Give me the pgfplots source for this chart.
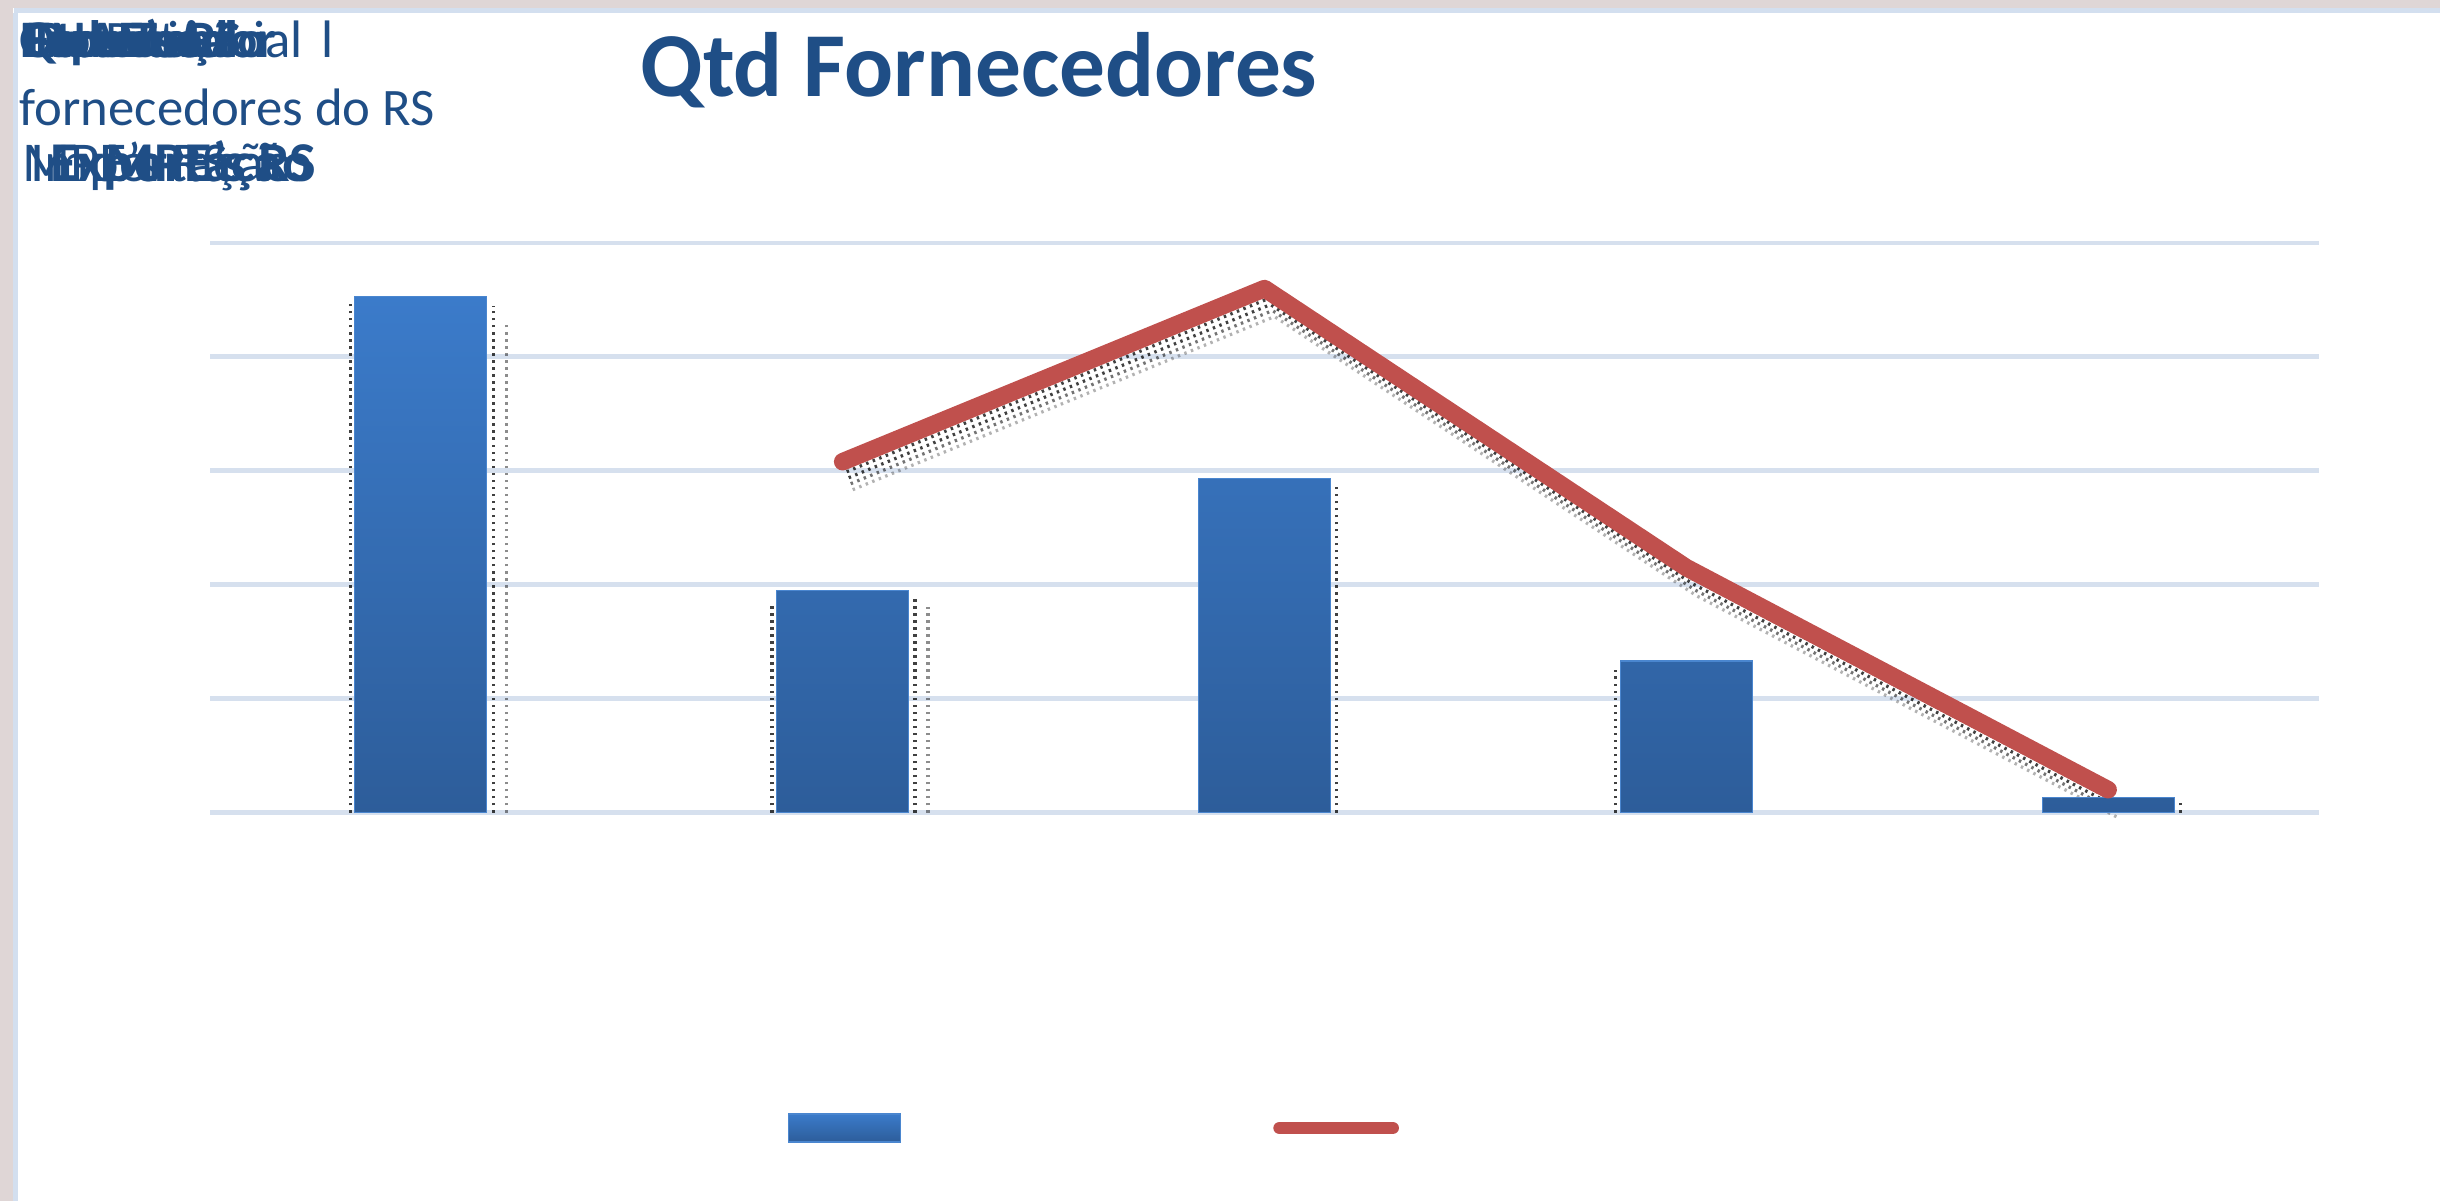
\documentclass[border=0pt]{standalone}
\usepackage{fontspec}
\setmainfont{Carlito}
\usepackage{pgfplots}
\pgfplotsset{compat=1.18}
\definecolor{pinkc}{HTML}{DFD6D6}
\definecolor{bluestrip}{HTML}{D3DFEF}
\definecolor{gridc}{HTML}{D6E0EE}
\definecolor{barTop}{HTML}{3B7BCA}
\definecolor{barBot}{HTML}{2D5D9A}
\definecolor{barEdge}{HTML}{4A86CF}
\definecolor{lineRed}{HTML}{C0504D}
\definecolor{titleBlue}{HTML}{1F4E86}
\begin{document}
\begin{tikzpicture}
% background
\useasboundingbox (0,0) rectangle (244mm,120.1mm);
\fill[white] (0,0) rectangle (244mm,120.1mm);
\fill[pinkc] (0,119.3mm) rectangle (244mm,120.1mm);
\fill[bluestrip] (1.4mm,118.8mm) rectangle (244mm,119.3mm);
\fill[pinkc] (0,0) rectangle (1.3mm,120.1mm);
\fill[bluestrip] (1.3mm,0) rectangle (1.8mm,118.8mm);

\begin{axis}[
  at={(21mm,38.85mm)}, anchor=south west,
  scale only axis, width=210.9mm, height=56.95mm,
  xmin=-0.5, xmax=4.5, ymin=0, ymax=5,
  axis line style={draw=none}, tick style={draw=none},
  xtick=\empty, ytick={0,1,2,3,4,5}, yticklabels={},
  ymajorgrids, grid style={gridc, line width=1.4pt},
  clip=false, unbounded coords=jump,
  legend columns=2,
  legend style={at={(axis description cs:0.2736,-0.554)}, anchor=west,
    draw=none, fill=none, inner sep=0pt, row sep=0pt, column sep=0pt,
    nodes={inner sep=0pt},
    /tikz/every even column/.append style={column sep=36.9mm}},
  shadowdots/.style={forget plot, draw=black, opacity=0.75, dash pattern=on 0.7pt off 1.3pt, line width=0.9pt, line join=round},
]
% dotted drop shadows (not in legend)
\addplot[shadowdots, transform canvas={xshift=-0.45mm}]
  coordinates {(-0.157,0) (-0.157,4.50) (nan,nan) (0.843,0) (0.843,1.85) (nan,nan) (2.843,0) (2.843,1.25)};
\addplot[shadowdots, transform canvas={xshift=0.6mm}]
  coordinates {(0.157,0) (0.157,4.45) (nan,nan) (1.157,0) (1.157,1.9) (nan,nan) (2.157,0) (2.157,2.88) (nan,nan) (4.157,0) (4.157,0.1)};
\addplot[shadowdots, opacity=0.45, transform canvas={xshift=1.9mm}]
  coordinates {(0.157,0) (0.157,4.3) (nan,nan) (1.157,0) (1.157,1.8)};
\addplot[shadowdots, transform canvas={xshift=0.4mm,yshift=-1.0mm}]
  coordinates {(1,3.08) (2,4.6) (3,2.15) (4,0.2)};
\addplot[shadowdots, transform canvas={xshift=0.6mm,yshift=-1.6mm}]
  coordinates {(1,3.08) (2,4.6) (3,2.15) (4,0.2)};
\addplot[shadowdots, opacity=0.55, transform canvas={xshift=0.8mm,yshift=-2.2mm}]
  coordinates {(1,3.08) (2,4.6) (3,2.15) (4,0.2)};
\addplot[shadowdots, opacity=0.3, transform canvas={xshift=1.0mm,yshift=-2.8mm}]
  coordinates {(1,3.08) (2,4.6) (3,2.15) (4,0.2)};
\addplot[ybar, bar width=13.2mm, draw=barEdge, line width=0.3pt,
  top color=barTop, bottom color=barBot,
  legend image code/.code={\shade[top color=barTop,bottom color=barBot] (0mm,-1.4mm) rectangle (11.2mm,1.4mm);}]
  coordinates {(0,4.53) (1,1.95) (2,2.93) (3,1.33) (4,0.13)};
\addlegendentry{}
\addplot[lineRed, line width=5pt, line join=round, line cap=round,
  legend image code/.code={\draw[lineRed, line width=3.6pt, line cap=round] (0.6mm,0mm) -- (11.9mm,0mm);}]
  coordinates {(1,3.08) (2,4.6) (3,2.15) (4,0.2)};
\addlegendentry{}
\end{axis}

% title
\node[anchor=base, text=titleBlue, font=\fontsize{26}{30}\selectfont\bfseries, inner sep=0pt]
  at (97.9mm,110.4mm) {Qtd Fornecedores};

% overlapping label block (top-left)
\begin{scope}[every node/.style={anchor=base west, inner sep=0pt, text=titleBlue, font=\fontsize{15}{18}\selectfont}]
\node at (1.9mm,114.3mm) {\makebox[31.4mm][s]{Potencia\hfill l}};
\node at (10.5mm,114.3mm) {Potencial};
\node at (1.9mm,114.3mm) {\bfseries Qtd. Total};
\node at (2.3mm,114.3mm) {\bfseries CNAE's RS};
\node at (2.0mm,114.3mm) {\bfseries Exportação};
\node at (2.6mm,114.3mm) {\bfseries Fornecedor};
\node at (3.5mm,114.3mm) {\bfseries Potencial};
\node at (1.9mm,107.5mm) {fornecedores do RS};
\node[font=\fontsize{16}{19}\selectfont] at (2.2mm,101.9mm) {MPE's RS};
\node[font=\fontsize{16}{19}\selectfont] at (3.0mm,101.9mm) {Importação};
\node[font=\fontsize{16}{19}\selectfont] at (5.0mm,101.9mm) {\bfseries Exportação};
\node[font=\fontsize{16}{19}\selectfont] at (10.5mm,101.9mm) {\bfseries MPE's RS};
\end{scope}
\end{tikzpicture}
\end{document}
